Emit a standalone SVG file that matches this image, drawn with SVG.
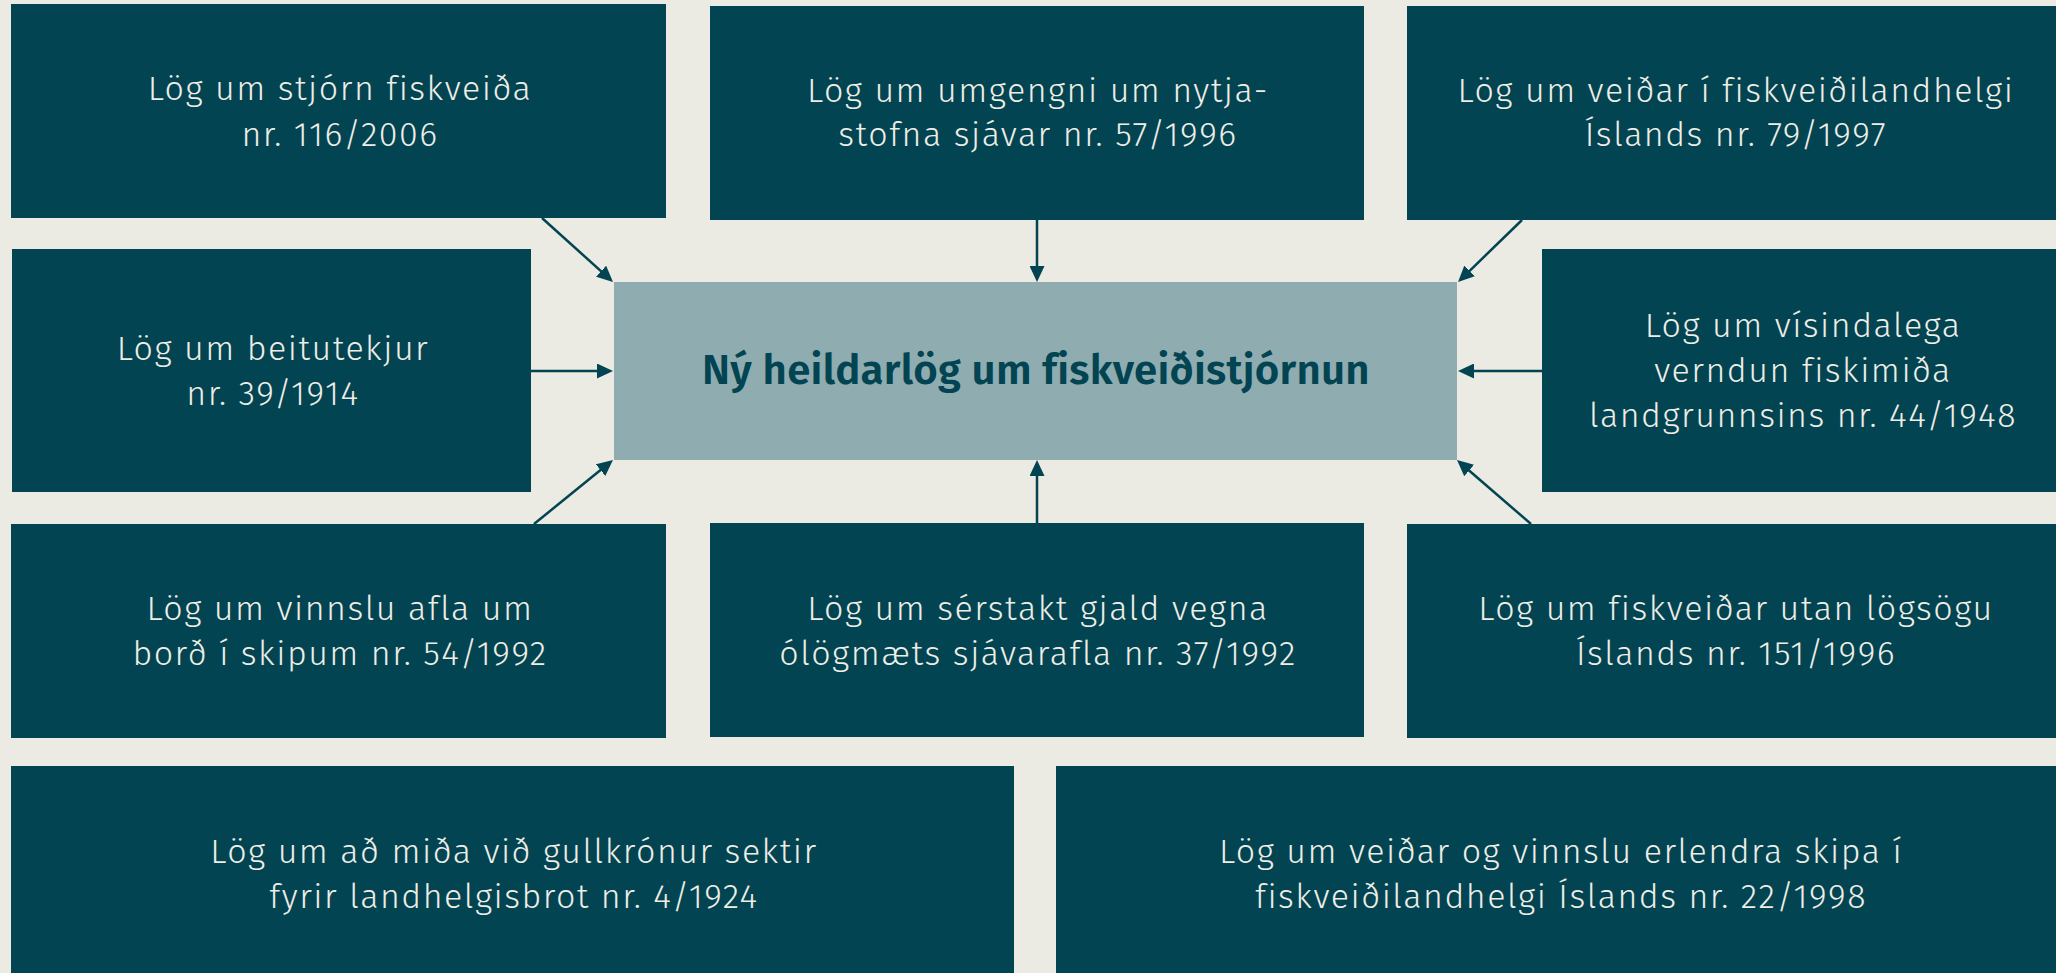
<svg xmlns="http://www.w3.org/2000/svg" width="2056" height="973" viewBox="0 0 2056 973">
<defs>
<style>
.box{fill:#024451}
.hub{fill:#8facb1}
.t{font-family:"Fira Sans",Roboto,"Noto Sans",sans-serif;font-weight:300;font-size:34px;letter-spacing:1.5px;fill:#eeede6;text-anchor:middle}
.ht{font-family:"Fira Sans",Roboto,"Noto Sans",sans-serif;font-weight:600;font-size:42px;letter-spacing:0.25px;fill:#024451;text-anchor:middle}
.c{stroke:#024451;stroke-width:2.5;fill:none;marker-end:url(#ah)}
</style>
<marker id="ah" markerUnits="userSpaceOnUse" markerWidth="16" markerHeight="15" refX="2" refY="7.5" orient="auto">
<path d="M0,0 L16,7.5 L0,15 Z" fill="#024451"/>
</marker>
</defs>
<rect width="2056" height="973" fill="#ebeae3"/>
<g id="connectors">
<line class="c" x1="542" y1="218" x2="602.6" y2="272.6"/>
<line class="c" x1="1037" y1="220" x2="1037" y2="268"/>
<line class="c" x1="1522" y1="220" x2="1468.1" y2="272.3"/>
<line class="c" x1="531" y1="371" x2="599" y2="371"/>
<line class="c" x1="1542" y1="371" x2="1472" y2="371"/>
<line class="c" x1="534" y1="524" x2="602.1" y2="468.8"/>
<line class="c" x1="1037" y1="523" x2="1037" y2="474"/>
<line class="c" x1="1531" y1="524" x2="1467.6" y2="469.2"/>
</g>
<g id="hub">
<rect class="hub" x="614" y="282" width="843" height="178"/>
<text class="ht" x="1036" y="384">Ný heildarlög um fiskveiðistjórnun</text>
</g>
<g id="n1">
<rect class="box" x="11" y="4" width="655" height="214"/>
<text class="t" x="340" y="100">Lög um stjórn fiskveiða</text>
<text class="t" x="340" y="146">nr. 116/2006</text>
</g>
<g id="n2">
<rect class="box" x="710" y="6" width="654" height="214"/>
<text class="t" x="1038" y="102">Lög um umgengni um nytja-</text>
<text class="t" x="1038" y="146">stofna sjávar nr. 57/1996</text>
</g>
<g id="n3">
<rect class="box" x="1407" y="6" width="656" height="214"/>
<text class="t" x="1736" y="102">Lög um veiðar í fiskveiðilandhelgi</text>
<text class="t" x="1736" y="146">Íslands nr. 79/1997</text>
</g>
<g id="n4">
<rect class="box" x="12" y="249" width="519" height="243"/>
<text class="t" x="273" y="360">Lög um beitutekjur</text>
<text class="t" x="273" y="405">nr. 39/1914</text>
</g>
<g id="n5">
<rect class="box" x="1542" y="249" width="520" height="243"/>
<text class="t" x="1803" y="337">Lög um vísindalega</text>
<text class="t" x="1803" y="382">verndun fiskimiða</text>
<text class="t" x="1803" y="427">landgrunnsins nr. 44/1948</text>
</g>
<g id="n6">
<rect class="box" x="11" y="524" width="655" height="214"/>
<text class="t" x="340" y="620">Lög um vinnslu afla um</text>
<text class="t" x="340" y="665">borð í skipum nr. 54/1992</text>
</g>
<g id="n7">
<rect class="box" x="710" y="523" width="654" height="214"/>
<text class="t" x="1038" y="620">Lög um sérstakt gjald vegna</text>
<text class="t" x="1038" y="665">ólögmæts sjávarafla nr. 37/1992</text>
</g>
<g id="n8">
<rect class="box" x="1407" y="524" width="656" height="214"/>
<text class="t" x="1736" y="620">Lög um fiskveiðar utan lögsögu</text>
<text class="t" x="1736" y="665">Íslands nr. 151/1996</text>
</g>
<g id="n9">
<rect class="box" x="11" y="766" width="1003" height="214"/>
<text class="t" x="514" y="863">Lög um að miða við gullkrónur sektir</text>
<text class="t" x="514" y="908">fyrir landhelgisbrot nr. 4/1924</text>
</g>
<g id="n10">
<rect class="box" x="1056" y="766" width="1008" height="214"/>
<text class="t" x="1561" y="863">Lög um veiðar og vinnslu erlendra skipa í</text>
<text class="t" x="1561" y="908">fiskveiðilandhelgi Íslands nr. 22/1998</text>
</g>
</svg>
